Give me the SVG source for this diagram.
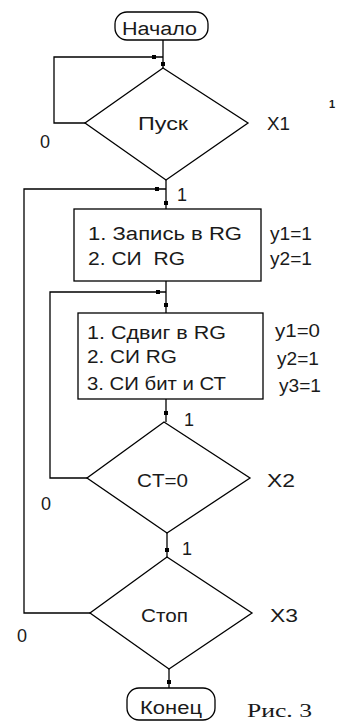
<svg xmlns="http://www.w3.org/2000/svg" width="337" height="721" viewBox="0 0 337 721">
<style>
.bg{fill:#ffffff}
.shape{fill:#ffffff;stroke:#000;stroke-width:1.3}
.line{fill:none;stroke:#000;stroke-width:1.3}
.dot{fill:#000}
text{font-family:"Liberation Sans",Arial,sans-serif;font-size:18px;fill:#1a1a1a;white-space:pre}
.serif{font-family:"Liberation Serif","Times New Roman",serif;font-size:19px}
.tiny{font-size:11px;font-weight:bold}
</style>
<rect class="bg" x="0" y="0" width="337" height="721"/>
<g id="connectors">
  <polyline class="line" points="163,40 163,68"/>
  <polyline class="line" points="85,123 54,123 54,57 163,57"/>
  <polyline class="line" points="166,180 166,209"/>
  <polyline class="line" points="90,613 24,613 24,189 166,189"/>
  <polyline class="line" points="166,281 166,313"/>
  <polyline class="line" points="87,478 50,478 50,292 166,292"/>
  <polyline class="line" points="166,399 166,422"/>
  <polyline class="line" points="167,533 167,557"/>
  <polyline class="line" points="169,669 169,688"/>
  <rect class="dot" x="152" y="55" width="4" height="4"/>
  <rect class="dot" x="161" y="62" width="4" height="4"/>
  <rect class="dot" x="155" y="187" width="4" height="4"/>
  <rect class="dot" x="164" y="201" width="4" height="4"/>
  <rect class="dot" x="156" y="290" width="4" height="4"/>
  <rect class="dot" x="164" y="303" width="4" height="4"/>
  <rect class="dot" x="164" y="411" width="4" height="4"/>
  <rect class="dot" x="165" y="548" width="4" height="4"/>
  <rect class="dot" x="167" y="680" width="4" height="4"/>
  <text x="40" y="148">0</text>
  <text x="177" y="201">1</text>
  <text x="184" y="426">1</text>
  <text x="41" y="510">0</text>
  <text x="182" y="555">1</text>
  <text x="17" y="642">0</text>
</g>
<g id="start">
  <rect class="shape" x="115" y="12" width="93" height="28" rx="12" ry="12"/>
  <text x="122" y="35" textLength="75" lengthAdjust="spacingAndGlyphs">Начало</text>
</g>
<g id="pusk">
  <polygon class="shape" points="163,68 248,123 166,180 85,123"/>
  <text x="138" y="130" textLength="50" lengthAdjust="spacingAndGlyphs">Пуск</text>
  <text x="267" y="130" textLength="23" lengthAdjust="spacingAndGlyphs">X1</text>
  <text class="tiny" x="329" y="108">1</text>
</g>
<g id="box1">
  <rect class="shape" x="74" y="209" width="187" height="72"/>
  <text x="88" y="240" textLength="154" lengthAdjust="spacingAndGlyphs">1. Запись в RG</text>
  <text x="88" y="265" textLength="97" lengthAdjust="spacingAndGlyphs">2. СИ  RG</text>
  <text x="270" y="240" textLength="42" lengthAdjust="spacingAndGlyphs">y1=1</text>
  <text x="270" y="265" textLength="42" lengthAdjust="spacingAndGlyphs">y2=1</text>
</g>
<g id="box2">
  <rect class="shape" x="78" y="313" width="185" height="86"/>
  <text x="87" y="339" textLength="139" lengthAdjust="spacingAndGlyphs">1. Сдвиг в RG</text>
  <text x="87" y="363" textLength="90" lengthAdjust="spacingAndGlyphs">2. СИ RG</text>
  <text x="87" y="390" textLength="139" lengthAdjust="spacingAndGlyphs">3. СИ бит и СТ</text>
  <text x="275" y="337" textLength="45" lengthAdjust="spacingAndGlyphs">y1=0</text>
  <text x="277" y="365" textLength="42" lengthAdjust="spacingAndGlyphs">y2=1</text>
  <text x="279" y="392" textLength="42" lengthAdjust="spacingAndGlyphs">y3=1</text>
</g>
<g id="ct">
  <polygon class="shape" points="164,422 250,478 167,533 87,478"/>
  <text x="137" y="487" textLength="51" lengthAdjust="spacingAndGlyphs">CT=0</text>
  <text x="267" y="487" textLength="28" lengthAdjust="spacingAndGlyphs">X2</text>
</g>
<g id="stop">
  <polygon class="shape" points="167,557 252,613 169,669 90,613"/>
  <text x="141" y="622" textLength="47" lengthAdjust="spacingAndGlyphs">Стоп</text>
  <text x="270" y="622" textLength="28" lengthAdjust="spacingAndGlyphs">X3</text>
</g>
<g id="end">
  <rect class="shape" x="127" y="688" width="88" height="32" rx="12" ry="12"/>
  <text x="140" y="714" textLength="62" lengthAdjust="spacingAndGlyphs">Конец</text>
</g>
<g id="caption">
  <text class="serif" x="247" y="717" textLength="65" lengthAdjust="spacingAndGlyphs">Рис. 3</text>
</g>
</svg>
